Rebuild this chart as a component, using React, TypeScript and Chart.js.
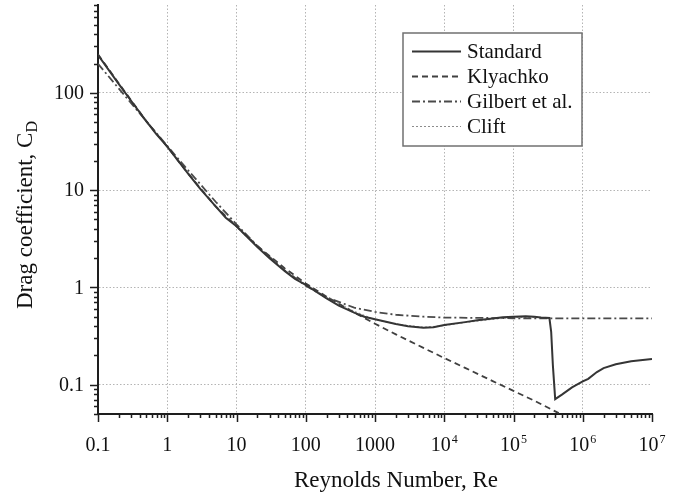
import { useEffect, useRef } from 'react';
import { Chart, registerables } from 'chart.js';

Chart.register(...registerables);

// Drag coefficient curves, C_D against Reynolds number Re
const standardRe = [0.1, 0.2, 0.3, 0.5, 0.7, 1, 2, 3, 5, 7, 10, 20, 30, 50, 70, 100, 200, 300, 500, 700, 1000, 2000, 3000, 5000, 7000, 1e4, 2e4, 3e4, 5e4, 7e4, 1e5, 1.5e5, 2e5, 2.5e5, 3.3e5, 3.5e5, 3.7e5, 4e5, 5e5, 7e5, 1e6, 1.2e6, 1.6e6, 2e6, 3e6, 5e6, 1e7];
const standardCd = [245, 123, 83, 51, 37.5, 28, 14.8, 10.3, 6.8, 5.2, 4.25, 2.6, 2.0, 1.47, 1.22, 1.06, 0.77, 0.65, 0.55, 0.5, 0.47, 0.42, 0.4, 0.385, 0.39, 0.41, 0.44, 0.46, 0.48, 0.495, 0.5, 0.505, 0.5, 0.49, 0.485, 0.35, 0.16, 0.071, 0.079, 0.094, 0.108, 0.115, 0.135, 0.148, 0.162, 0.174, 0.184];

const klyachkoRe = [0.1, 0.2, 0.5, 1, 2, 5, 10, 20, 50, 100, 200, 500, 1000, 2000, 5000, 1e4, 2e4, 5e4, 1e5, 2e5, 4.5e5];
const klyachkoCd = [249, 125, 51, 28, 14.8, 6.8, 4.26, 2.67, 1.57, 1.1, 0.804, 0.552, 0.424, 0.329, 0.239, 0.188, 0.149, 0.109, 0.0864, 0.0685, 0.051];

const gilbertRe = [0.1, 0.2, 0.5, 1, 2, 5, 10, 20, 50, 100, 200, 500, 1000, 2000, 5000, 1e4, 1e5, 1e6, 1e7];
const gilbertCd = [199, 110.5, 51, 28.5, 16.0, 7.6, 4.45, 2.67, 1.49, 1.04, 0.79, 0.62, 0.56, 0.524, 0.5, 0.49, 0.482, 0.48, 0.48];

const cliftRe = [0.1, 0.2, 0.5, 1, 2, 5, 10, 20, 50, 100, 200, 500, 1000, 2000, 5000, 1e4, 2e4, 5e4, 1e5, 2e5];
const cliftCd = [247, 124, 51, 27.6, 14.7, 6.75, 4.15, 2.6, 1.5, 1.08, 0.79, 0.57, 0.466, 0.42, 0.39, 0.405, 0.435, 0.47, 0.49, 0.49];

const xTickValues = [0.1, 1, 10, 100, 1000, 1e4, 1e5, 1e6, 1e7];
const xTickLabels = ['0.1', '1', '10', '100', '1000', '10^4', '10^5', '10^6', '10^7'];
const yTickValues = [0.1, 1, 10, 100];
const yTickLabels = ['0.1', '1', '10', '100'];

const xTitle = 'Reynolds Number, Re';
const yTitleMain = 'Drag coefficient, C';
const yTitleSub = 'D';

const SERIF = "'Liberation Serif', 'Times New Roman', serif";
const AXIS_COLOR = '#1e1e1e';

const toPoints = (xs: number[], ys: number[]) => xs.map((x, i) => ({ x, y: ys[i] }));

const isDecade = (v: number) => Math.abs(Math.log10(v) - Math.round(Math.log10(v))) < 1e-6;

// Outward tick marks, tick labels, axis titles and the framed legend
const decorPlugin = {
  id: 'decor',
  afterDraw(chart: any) {
    const { ctx, chartArea: a } = chart;
    const xs = chart.scales.x;
    const ys = chart.scales.y;
    ctx.save();

    // tick marks
    ctx.strokeStyle = AXIS_COLOR;
    ctx.lineWidth = 1.5;
    ctx.beginPath();
    for (let e = -2; e <= 7; e++) {
      for (let k = 1; k <= 9; k++) {
        const v = k * Math.pow(10, e);
        if (v >= xs.min * 0.999 && v <= xs.max * 1.001) {
          const px = Math.round(xs.getPixelForValue(v)) + 0.5;
          const len = k === 1 ? 8 : 4;
          ctx.moveTo(px, a.bottom);
          ctx.lineTo(px, a.bottom + len);
        }
        if (v >= ys.min * 0.999 && v <= ys.max * 1.001) {
          const py = Math.round(ys.getPixelForValue(v)) + 0.5;
          const len = k === 1 ? 8 : 4;
          ctx.moveTo(a.left, py);
          ctx.lineTo(a.left - len, py);
        }
      }
    }
    ctx.stroke();

    // x tick labels (with superscript exponents)
    ctx.fillStyle = '#111';
    ctx.textBaseline = 'alphabetic';
    xTickValues.forEach((v, i) => {
      const px = xs.getPixelForValue(v);
      const [base, sup] = xTickLabels[i].split('^');
      ctx.font = `20px ${SERIF}`;
      const wb = ctx.measureText(base).width;
      let ws = 0;
      if (sup) {
        ctx.font = `12px ${SERIF}`;
        ws = ctx.measureText(sup).width + 1;
      }
      const x0 = px - (wb + ws) / 2;
      ctx.font = `20px ${SERIF}`;
      ctx.textAlign = 'left';
      ctx.fillText(base, x0, 451);
      if (sup) {
        ctx.font = `12px ${SERIF}`;
        ctx.fillText(sup, x0 + wb + 1, 443);
      }
    });

    // y tick labels
    ctx.font = `20px ${SERIF}`;
    ctx.textAlign = 'right';
    ctx.textBaseline = 'middle';
    yTickValues.forEach((v, i) => {
      ctx.fillText(yTickLabels[i], 84, ys.getPixelForValue(v) + 1);
    });

    // x title
    ctx.font = `23px ${SERIF}`;
    ctx.textAlign = 'center';
    ctx.textBaseline = 'alphabetic';
    ctx.fillText(xTitle, 396, 487);

    // y title, rotated, with subscript
    ctx.save();
    ctx.translate(32, 215);
    ctx.rotate(-Math.PI / 2);
    ctx.font = `23px ${SERIF}`;
    const wm = ctx.measureText(yTitleMain).width;
    ctx.font = `16px ${SERIF}`;
    const wsub = ctx.measureText(yTitleSub).width;
    const start = -(wm + wsub) / 2;
    ctx.textAlign = 'left';
    ctx.font = `23px ${SERIF}`;
    ctx.fillText(yTitleMain, start, 0);
    ctx.font = `16px ${SERIF}`;
    ctx.fillText(yTitleSub, start + wm, 5);
    ctx.restore();

    // legend
    const box = { x: 403, y: 33, w: 179, h: 113 };
    ctx.fillStyle = '#ffffff';
    ctx.fillRect(box.x, box.y, box.w, box.h);
    ctx.strokeStyle = '#707070';
    ctx.lineWidth = 1.5;
    ctx.strokeRect(box.x, box.y, box.w, box.h);
    const rows = [51, 76, 101, 126];
    chart.data.datasets.forEach((ds: any, i: number) => {
      const y = rows[i];
      ctx.save();
      ctx.strokeStyle = ds.borderColor;
      ctx.lineWidth = ds.borderWidth;
      ctx.setLineDash(ds.borderDash || []);
      ctx.beginPath();
      ctx.moveTo(412, y + 0.5);
      ctx.lineTo(461, y + 0.5);
      ctx.stroke();
      ctx.restore();
      ctx.fillStyle = '#111';
      ctx.font = `21px ${SERIF}`;
      ctx.textAlign = 'left';
      ctx.textBaseline = 'middle';
      ctx.fillText(ds.label, 467, y + 1);
    });

    ctx.restore();
  },
};

export default function App() {
  const canvasRef = useRef<HTMLCanvasElement | null>(null);

  useEffect(() => {
    if (!canvasRef.current) return;
    const gridColor = (scaleId: 'x' | 'y') => (c: any) => {
      const s = c.chart.scales[scaleId];
      const v = c.tick && c.tick.value;
      if (v === undefined) return 'rgba(0,0,0,0)';
      if (Math.abs(v - s.min) < 1e-9 * s.max || Math.abs(v - s.max) < 1e-9 * s.max) return 'rgba(0,0,0,0)';
      return '#b4b4b4';
    };
    const chart = new Chart(canvasRef.current, {
      type: 'scatter',
      data: {
        datasets: [
          {
            label: 'Standard',
            data: toPoints(standardRe, standardCd),
            borderColor: '#353535',
            borderWidth: 2,
            borderDash: [],
          },
          {
            label: 'Klyachko',
            data: toPoints(klyachkoRe, klyachkoCd),
            borderColor: '#404040',
            borderWidth: 1.8,
            borderDash: [6, 4],
          },
          {
            label: 'Gilbert et al.',
            data: toPoints(gilbertRe, gilbertCd),
            borderColor: '#4a4a4a',
            borderWidth: 1.8,
            borderDash: [8, 3, 2, 3],
          },
          {
            label: 'Clift',
            data: toPoints(cliftRe, cliftCd),
            borderColor: '#8c8c8c',
            borderWidth: 1,
            borderDash: [2, 2],
          },
        ] as any,
      },
      options: {
        animation: false,
        responsive: false,
        devicePixelRatio: 1,
        showLine: true,
        elements: {
          point: { radius: 0, hoverRadius: 0 },
          line: { tension: 0, fill: false },
        },
        layout: { padding: { left: 0, top: 5, right: 40, bottom: 0 } },
        plugins: {
          legend: { display: false },
          tooltip: { enabled: false },
          title: { display: false },
        },
        scales: {
          x: {
            type: 'logarithmic',
            position: 'bottom',
            min: 0.1,
            max: 1e7,
            afterBuildTicks: (s: any) => {
              s.ticks = xTickValues.map((v) => ({ value: v }));
            },
            afterFit: (s: any) => {
              s.height = 84;
              s.paddingLeft = 0;
              s.paddingRight = 0;
            },
            ticks: { display: false },
            grid: {
              drawTicks: false,
              color: gridColor('x'),
              lineWidth: 1,
            },
            border: { display: true, color: AXIS_COLOR, width: 2, dash: [1.5, 2] } as any,
          },
          y: {
            type: 'logarithmic',
            position: 'left',
            min: 0.05,
            max: 800,
            afterBuildTicks: (s: any) => {
              s.ticks = yTickValues.map((v) => ({ value: v }));
            },
            afterFit: (s: any) => {
              s.width = 98;
              s.paddingTop = 0;
              s.paddingBottom = 0;
            },
            ticks: { display: false },
            grid: {
              drawTicks: false,
              color: gridColor('y'),
              lineWidth: 1,
            },
            border: { display: true, color: AXIS_COLOR, width: 2, dash: [1.5, 2] } as any,
          },
        },
      } as any,
      plugins: [decorPlugin],
    });
    return () => chart.destroy();
  }, []);

  return (
    <div style={{ position: 'absolute', left: 0, top: 0, width: 692, height: 498, background: '#fff' }}>
      <canvas ref={canvasRef} width={692} height={498} style={{ display: 'block' }} />
    </div>
  );
}
